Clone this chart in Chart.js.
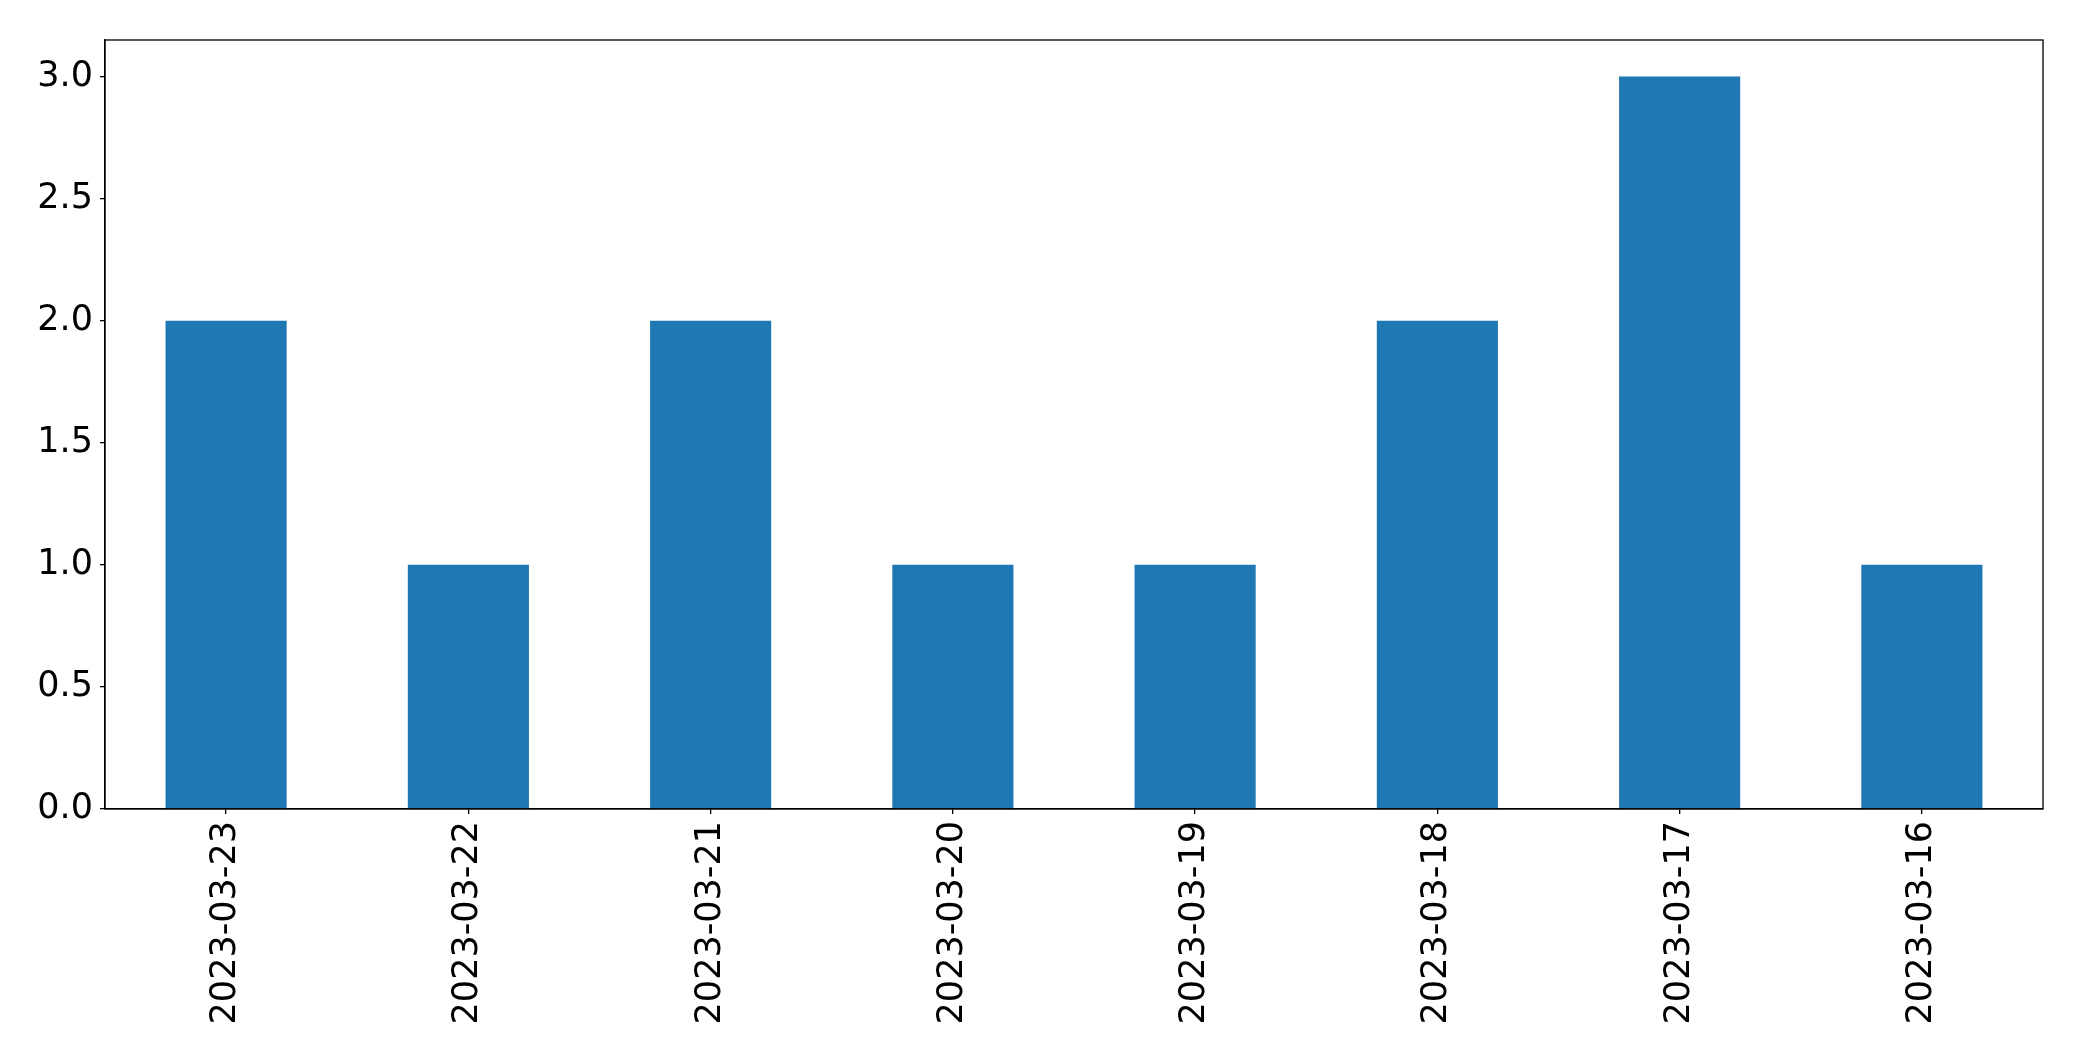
<!DOCTYPE html>
<html>
<head>
<meta charset="utf-8">
<script src="https://cdn.jsdelivr.net/npm/chart.js@4/dist/chart.umd.min.js"></script>
<style>
html,body{margin:0;padding:0;background:#fff;}
#wrap{width:2082px;height:1061px;position:relative;}
</style>
</head>
<body>
<div id="wrap"><canvas id="c" width="2082" height="1061"></canvas></div>
<script>
const categories = ["2023-03-23","2023-03-22","2023-03-21","2023-03-20","2023-03-19","2023-03-18","2023-03-17","2023-03-16"];
const counts = [2,1,2,1,1,2,3,1];
const yTicks = [0, 0.5, 1.0, 1.5, 2.0, 2.5, 3.0];
const yMin = 0;
const yMax = 3.15;

const frame = {
  id: 'frame',
  afterDraw(chart) {
    const a = chart.chartArea, ctx = chart.ctx;
    ctx.save();
    ctx.strokeStyle = '#000';
    ctx.lineWidth = 1.3;
    ctx.strokeRect(a.left, a.top, a.right - a.left, a.bottom - a.top);
    ctx.restore();
  }
};

new Chart(document.getElementById('c'), {
  type: 'bar',
  data: {
    labels: categories,
    datasets: [{ data: counts, backgroundColor: '#1f77b4', borderWidth: 0,
      categoryPercentage: 1.0, barPercentage: 0.5 }]
  },
  options: {
    responsive: false,
    animation: false,
    devicePixelRatio: 1,
    layout: { padding: { top: 40, right: 39, left: 0, bottom: 0 } },
    plugins: { legend: { display: false }, tooltip: { enabled: false } },
    scales: {
      x: {
        offset: true,
        grid: { offset: false, drawOnChartArea: false, drawTicks: true, tickLength: 5, color: '#000', lineWidth: 1.3 },
        border: { display: true, color: '#000', width: 1.3 },
        ticks: { color: '#000', font: { family: 'DejaVu Sans', size: 35 }, minRotation: 90, maxRotation: 90, padding: 7, autoSkip: false },
        afterFit(s) { s.height = 252; }
      },
      y: {
        min: yMin, max: yMax,
        grid: { drawOnChartArea: false, drawTicks: true, tickLength: 5, color: '#000', lineWidth: 1.3 },
        border: { display: true, color: '#000', width: 1.3 },
        ticks: { color: '#000', font: { family: 'DejaVu Sans', size: 35 }, padding: 7, autoSkip: false,
          callback: (v) => Number(v).toFixed(1) },
        afterBuildTicks(s) { s.ticks = yTicks.map(v => ({ value: v })); },
        afterFit(s) { s.width = 105; }
      }
    }
  },
  plugins: [frame]
});
</script>
</body>
</html>
